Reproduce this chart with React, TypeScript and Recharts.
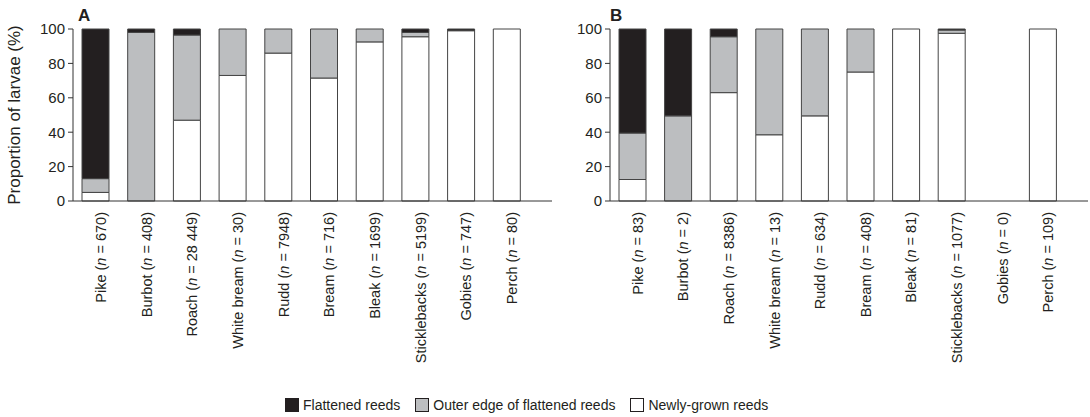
import React from 'react';
import { BarChart, Bar, XAxis, YAxis } from 'recharts';

// categories and sample sizes
const species = ['Pike', 'Burbot', 'Roach', 'White bream', 'Rudd', 'Bream', 'Bleak', 'Sticklebacks', 'Gobies', 'Perch'];
const countsA = ['670', '408', '28 449', '30', '7948', '716', '1699', '5199', '747', '80'];
const countsB = ['83', '2', '8386', '13', '634', '408', '81', '1077', '0', '109'];

// panel A (%)
const newlyGrownA = [5, 0, 47, 73, 86, 71.5, 92.5, 95.5, 99, 100];
const outerEdgeA = [8, 98, 49.5, 27, 14, 28.5, 7.5, 2.5, 0.2, 0];
const flattenedA = [87, 2, 3.5, 0, 0, 0, 0, 2, 0.8, 0];

// panel B (%)
const newlyGrownB = [12.5, 0, 63, 38.5, 49.5, 75, 100, 97.5, 0, 100];
const outerEdgeB = [27, 49.5, 32.5, 61.5, 50.5, 25, 0, 1.9, 0, 0];
const flattenedB = [60.5, 50.5, 4.5, 0, 0, 0, 0, 0.6, 0, 0];

const yTicks = [0, 20, 40, 60, 80, 100];

const legendNames = ['Flattened reeds', 'Outer edge of flattened reeds', 'Newly-grown reeds'];
const legendColors = ['#231f20', '#bcbec0', '#ffffff'];

const FONT = '"Liberation Sans", Arial, sans-serif';
const INK = '#231f20';

const buildData = (white: number[], gray: number[], black: number[]) =>
  species.map((name, i) => ({ name, white: white[i], gray: gray[i], black: black[i] }));

const dataA = buildData(newlyGrownA, outerEdgeA, flattenedA);
const dataB = buildData(newlyGrownB, outerEdgeB, flattenedB);

const makeTick = (counts: string[]) => (props: any) => {
  const { x, y, payload, index } = props;
  return (
    <text
      transform={`translate(${x + 10},${y + 11}) rotate(-90)`}
      textAnchor="end"
      fontSize={14.5}
      fontFamily={FONT}
      fill={INK}
    >
      {payload.value} (<tspan fontStyle="italic">n</tspan> = {counts[index]})
    </text>
  );
};

const Panel = ({ data, counts, letter, letterX, yAxisWidth, width, showLabel }: any) => (
  <BarChart
    width={width}
    height={417}
    data={data}
    margin={{ top: 29, right: 2, left: 0, bottom: 46 }}
    barSize={27}
  >
    <XAxis
      dataKey="name"
      interval={0}
      height={170}
      tickLine={false}
      tickSize={0}
      tickMargin={0}
      stroke="#333"
      padding={{ left: 0, right: 22 }}
      tick={makeTick(counts)}
    />
    <YAxis
      width={yAxisWidth}
      domain={[0, 100]}
      ticks={yTicks}
      tickSize={5}
      tickMargin={3}
      stroke="#333"
      tick={{ fontSize: 15, fill: INK, fontFamily: FONT }}
      label={
        showLabel
          ? {
              value: 'Proportion of larvae (%)',
              angle: -90,
              position: 'insideLeft',
              offset: 14,
              style: { textAnchor: 'middle', fontSize: 17, fill: INK, fontFamily: FONT },
            }
          : undefined
      }
    />
    <Bar dataKey="white" stackId="s" fill="#ffffff" stroke="#444" strokeWidth={1} isAnimationActive={false} />
    <Bar dataKey="gray" stackId="s" fill="#bcbec0" stroke="#444" strokeWidth={1} isAnimationActive={false} />
    <Bar dataKey="black" stackId="s" fill="#231f20" stroke="#444" strokeWidth={1} isAnimationActive={false} />
    <text x={letterX} y={21} fontSize={17} fontWeight="bold" fontFamily={FONT} fill={INK}>
      {letter}
    </text>
  </BarChart>
);

export default function App() {
  return (
    <div style={{ position: 'absolute', left: 0, top: 0, width: 1090, height: 417, background: '#fff', fontFamily: FONT }}>
      <div style={{ position: 'absolute', left: 0, top: 0 }}>
        <Panel data={dataA} counts={countsA} letter="A" letterX={78} yAxisWidth={73} width={554} showLabel />
      </div>
      <div style={{ position: 'absolute', left: 560, top: 0 }}>
        <Panel data={dataB} counts={countsB} letter="B" letterX={50} yAxisWidth={50} width={530} showLabel={false} />
      </div>
      <div style={{ position: 'absolute', left: 285, top: 397, display: 'flex', alignItems: 'center', fontSize: 14, color: INK }}>
        {legendNames.map((name, i) => (
          <div key={name} style={{ display: 'flex', alignItems: 'center', marginRight: 15 }}>
            <span
              style={{
                display: 'inline-block',
                width: 12,
                height: 12,
                background: legendColors[i],
                border: '1px solid #231f20',
                marginRight: 4,
              }}
            />
            <span>{name}</span>
          </div>
        ))}
      </div>
    </div>
  );
}
